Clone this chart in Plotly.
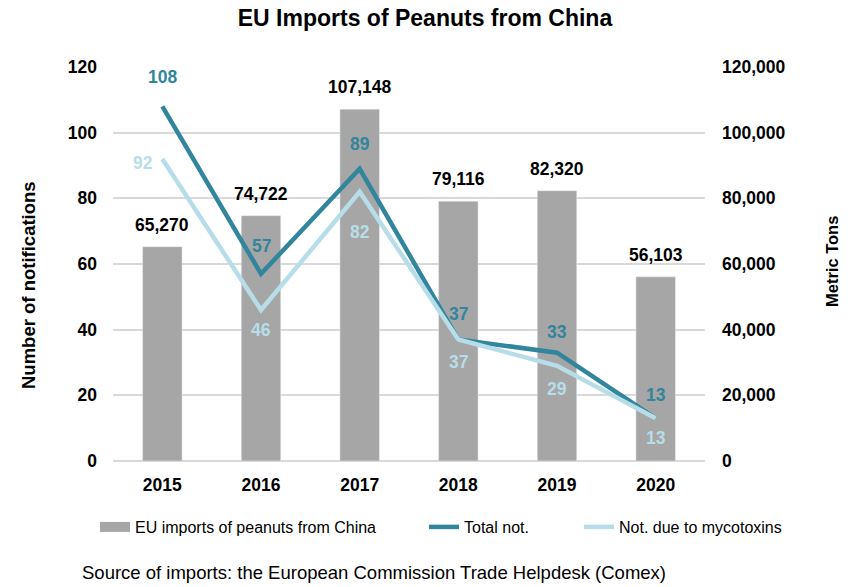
import plotly.graph_objects as go

years = ["2015", "2016", "2017", "2018", "2019", "2020"]
imports_tons = [65270, 74722, 107148, 79116, 82320, 56103]
total_not = [108, 57, 89, 37, 33, 13]
myco_not = [92, 46, 82, 37, 29, 13]

# label offsets (px) as placed in the reference
total_dy = [-29, -28, -25, -26, -21, -23]
myco_dx = [-19, 0, 0, 0, 0, 0]
myco_dy = [4, 20, 40, 22, 23, 20]

FONT = "Liberation Sans, Arial, sans-serif"
BAR = "#A6A6A6"
DARK = "#31859C"
LIGHT = "#B7DEE8"
NUM = 17.5
W, H = 852, 587

fig = go.Figure()
fig.add_trace(go.Bar(
    x=years, y=imports_tons, name="EU imports of peanuts from China",
    marker_color=BAR, width=0.4, yaxis="y", showlegend=False,
))
# legend swatch for the bars (wide rectangle as in the reference)
fig.add_trace(go.Scatter(
    x=[None], y=[None], name="EU imports of peanuts from China", mode="lines",
    line=dict(color=BAR, width=10), yaxis="y", legend="legend",
))
fig.add_trace(go.Scatter(
    x=years, y=total_not, name="Total not.", mode="lines",
    line=dict(color=DARK, width=4.5), yaxis="y2", legend="legend2",
))
fig.add_trace(go.Scatter(
    x=years, y=myco_not, name="Not. due to mycotoxins", mode="lines",
    line=dict(color=LIGHT, width=4.5), yaxis="y2", legend="legend3",
))

ann = []
for i, v in enumerate(imports_tons):
    ann.append(dict(x=i, y=v, xref="x", yref="y", text=f"<b>{v:,}</b>", showarrow=False,
                    yshift=22, yanchor="middle",
                    font=dict(family=FONT, size=NUM, color="black")))
for i, (v, dy) in enumerate(zip(total_not, total_dy)):
    ann.append(dict(x=i, y=v, xref="x", yref="y2", text=f"<b>{v}</b>", showarrow=False,
                    yshift=-dy, yanchor="middle",
                    font=dict(family=FONT, size=NUM, color=DARK)))
for i, (v, dx, dy) in enumerate(zip(myco_not, myco_dx, myco_dy)):
    ann.append(dict(x=i, y=v, xref="x", yref="y2", text=f"<b>{v}</b>", showarrow=False,
                    xshift=dx, yshift=-dy, yanchor="middle",
                    font=dict(family=FONT, size=NUM, color=LIGHT)))

ann.append(dict(text="<b>Number of notifications</b>", xref="paper", yref="paper",
                x=(28 - 113) / 592, y=(461 - 285) / 394, textangle=-90, showarrow=False,
                xanchor="center", yanchor="middle",
                font=dict(family=FONT, size=18.5, color="black")))
ann.append(dict(text="<b>Metric Tons</b>", xref="paper", yref="paper",
                x=(832 - 113) / 592, y=(461 - 262) / 394, textangle=-90, showarrow=False,
                xanchor="center", yanchor="middle",
                font=dict(family=FONT, size=16.5, color="black")))
ann.append(dict(text="Source of imports: the European Commission Trade Helpdesk (Comex)",
                xref="paper", yref="paper", x=(80 - 113) / 592, y=(461 - 572) / 394,
                xanchor="left", yanchor="middle", showarrow=False,
                font=dict(size=18.5, family=FONT, color="black")))

def leg(xpx):
    return dict(orientation="h", xref="container", x=xpx / W, xanchor="left",
                yref="container", y=1 - 527 / H, yanchor="middle",
                font=dict(size=16, family=FONT, color="black"), bgcolor="rgba(0,0,0,0)")

fig.update_layout(
    width=W, height=H,
    margin=dict(l=113, r=147, t=67, b=126),
    paper_bgcolor="white", plot_bgcolor="white",
    font=dict(family=FONT, color="black"),
    title=dict(text="<b>EU Imports of Peanuts from China</b>", x=425 / W, xref="container",
               xanchor="center", y=1 - 18 / H, yanchor="middle",
               font=dict(size=23, family=FONT, color="black")),
    xaxis=dict(type="category", tickfont=dict(size=NUM, weight="bold"), showline=False,
               ticks="", automargin=False, ticklabelstandoff=11),
    yaxis=dict(side="right", range=[0, 120000], dtick=20000, tickformat=",",
               showgrid=True, gridcolor="#D9D9D9", gridwidth=1.5, zeroline=True,
               zerolinecolor="#D9D9D9", zerolinewidth=1.5, tickfont=dict(size=NUM, weight="bold"),
               ticklabelstandoff=16, automargin=False),
    yaxis2=dict(side="left", overlaying="y", range=[0, 120], dtick=20,
                showgrid=False, zeroline=False, tickfont=dict(size=NUM, weight="bold"),
                ticklabelstandoff=15, automargin=False),
    legend=leg(95),
    legend2=leg(424),
    legend3=leg(579),
    annotations=ann,
)

fig.write_html("out.html", post_script="document.body.style.margin='0';",
               config={"displayModeBar": False})
